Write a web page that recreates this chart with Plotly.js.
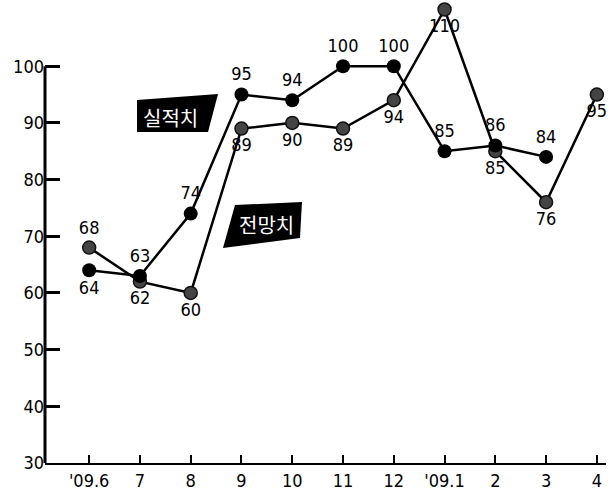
<!DOCTYPE html>
<html>
<head>
<meta charset="utf-8">
<script src="https://cdn.plot.ly/plotly-3.0.1.min.js"></script>
<style>
  html, body { margin: 0; padding: 0; background: #fff; }
  #chart { width: 608px; height: 492px; }
</style>
</head>
<body>
<div id="chart"></div>
<script>
const months = ["'09.6", "7", "8", "9", "10", "11", "12", "'09.1", "2", "3", "4"];
const actual = [64, 63, 74, 95, 94, 100, 100, 85, 86, 84, null];      // 실적치
const forecast = [68, 62, 60, 89, 90, 89, 94, 110, 85, 76, 95];        // 전망치
const yTicks = [30, 40, 50, 60, 70, 80, 90, 100];

const numFont = { family: "DejaVu Sans Condensed, Liberation Sans Narrow, sans-serif", size: 18, color: "#000" };
const korFont = { family: "Noto Sans CJK KR, sans-serif", size: 20, color: "#fff" };

const actualPos = ["bottom center", "top center", "top center", "top center", "top center", "top center", "top center", "top center", "top center", "top center", "top center"];
const forecastPos = ["top center", "bottom center", "bottom center", "bottom center", "bottom center", "bottom center", "bottom center", "bottom center", "bottom center", "bottom center", "bottom center"];

const traces = [
  {
    x: months, y: forecast, type: "scatter", mode: "lines+markers+text",
    name: "전망치",
    text: forecast.map(v => v == null ? "" : String(v)),
    textposition: forecastPos, textfont: numFont,
    line: { color: "#000", width: 2.5 },
    marker: { size: 13, color: "#444", line: { color: "#111", width: 1.5 } },
    cliponaxis: false, hoverinfo: "skip"
  },
  {
    x: months, y: actual, type: "scatter", mode: "lines+markers+text",
    name: "실적치",
    text: actual.map(v => v == null ? "" : String(v)),
    textposition: actualPos, textfont: numFont,
    line: { color: "#000", width: 2.5 },
    marker: { size: 14, color: "#000" },
    cliponaxis: false, hoverinfo: "skip"
  }
];

function px(x) { return (x - 45) / 561; }
function py(y) { return (463 - y) / 462; }
function poly(pts) {
  return "M " + pts.map(p => px(p[0]).toFixed(4) + "," + py(p[1]).toFixed(4)).join(" L ") + " Z";
}

const layout = {
  width: 608, height: 492,
  margin: { l: 45, r: 2, t: 1, b: 29 },
  paper_bgcolor: "#fff", plot_bgcolor: "#fff",
  showlegend: false,
  font: numFont,
  xaxis: {
    type: "category", range: [-0.87, 10.18],
    showgrid: false, zeroline: false,
    showline: true, linecolor: "#000", linewidth: 2,
    ticks: "inside", ticklen: 8, tickwidth: 2, tickcolor: "#000",
    tickfont: numFont, fixedrange: true
  },
  yaxis: {
    range: [30, 111.5],
    tickvals: yTicks, ticktext: yTicks.map(String),
    showgrid: false, zeroline: false, showline: false,
    ticks: "inside", ticklen: 15, tickwidth: 3, tickcolor: "#000",
    tickfont: numFont, fixedrange: true
  },
  shapes: [
    { type: "line", xref: "paper", yref: "y", x0: 0, x1: 0, y0: 30, y1: 100, line: { color: "#000", width: 3 } },
    { type: "path", xref: "paper", yref: "paper", path: poly([[137, 100], [218, 94], [208, 132], [137, 132]]), fillcolor: "#000", line: { width: 0 } },
    { type: "path", xref: "paper", yref: "paper", path: poly([[235, 205], [302, 202], [300, 238], [223, 248]]), fillcolor: "#000", line: { width: 0 } }
  ],
  annotations: [
    { xref: "paper", yref: "paper", x: px(170), y: py(117), text: "실적치", showarrow: false, font: korFont, xanchor: "center", yanchor: "middle" },
    { xref: "paper", yref: "paper", x: px(266), y: py(224), text: "전망치", showarrow: false, font: korFont, xanchor: "center", yanchor: "middle" }
  ]
};

Plotly.newPlot("chart", traces, layout, { staticPlot: true, displayModeBar: false });
</script>
</body>
</html>
